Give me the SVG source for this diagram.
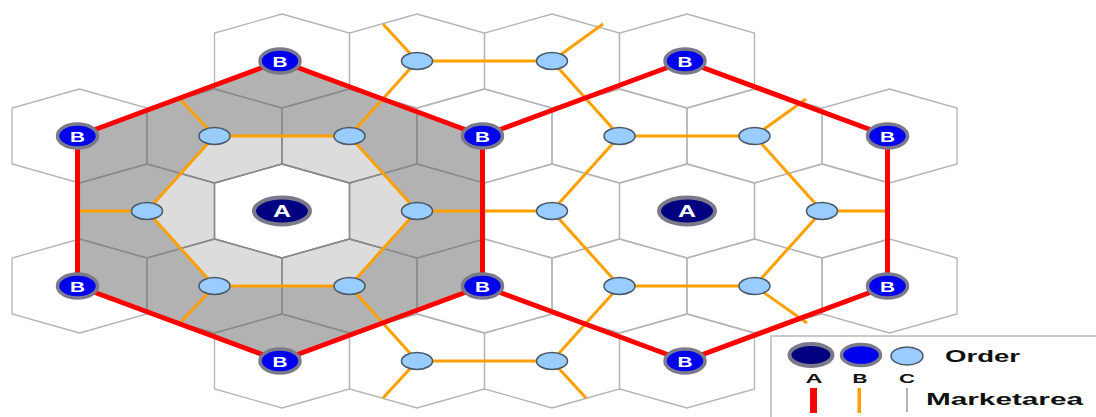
<svg xmlns="http://www.w3.org/2000/svg" xmlns:xlink="http://www.w3.org/1999/xlink" width="1096" height="417" viewBox="0 0 1096 417">
<style>
.hex{fill:none;stroke:#b4b4b4;stroke-width:1.3}
.hexd{fill:none;stroke:#8a8a8a;stroke-width:1.3}
.red{fill:none;stroke:#ff0000;stroke-width:5;stroke-linejoin:round;stroke-linecap:round}
.org{fill:none;stroke:#ffa000;stroke-width:3}
.na{fill:#000080;stroke:#7a7a8a;stroke-width:4}
.nb{fill:#0000f0;stroke:#7a7a8a;stroke-width:3.5}
.nc{fill:#99ccff;stroke:#4a5868;stroke-width:1.5}
.lbl{font-family:"Liberation Sans",Arial,sans-serif;font-weight:bold;fill:#ffffff;text-anchor:middle}
.leg{font-family:"Liberation Sans",Arial,sans-serif;font-weight:bold;fill:#111111}
</style>
<defs>
<path id="hx" d="M0,-47 L67.5,-28 L67.5,28 L0,47 L-67.5,28 L-67.5,-28 Z"/>
<clipPath id="leftArea"><polygon points="280,61 482.5,136 482.5,286 280,361 77.5,286 77.5,136"/></clipPath>
<g id="grid">
<use xlink:href="#hx" x="282" y="61"/><use xlink:href="#hx" x="417" y="61"/><use xlink:href="#hx" x="552" y="61"/><use xlink:href="#hx" x="687" y="61"/>
<use xlink:href="#hx" x="79.5" y="136"/><use xlink:href="#hx" x="214.5" y="136"/><use xlink:href="#hx" x="349.5" y="136"/><use xlink:href="#hx" x="484.5" y="136"/><use xlink:href="#hx" x="619.5" y="136"/><use xlink:href="#hx" x="754.5" y="136"/><use xlink:href="#hx" x="889.5" y="136"/>
<use xlink:href="#hx" x="147" y="211"/><use xlink:href="#hx" x="282" y="211"/><use xlink:href="#hx" x="417" y="211"/><use xlink:href="#hx" x="552" y="211"/><use xlink:href="#hx" x="687" y="211"/><use xlink:href="#hx" x="822" y="211"/>
<use xlink:href="#hx" x="79.5" y="286"/><use xlink:href="#hx" x="214.5" y="286"/><use xlink:href="#hx" x="349.5" y="286"/><use xlink:href="#hx" x="484.5" y="286"/><use xlink:href="#hx" x="619.5" y="286"/><use xlink:href="#hx" x="754.5" y="286"/><use xlink:href="#hx" x="889.5" y="286"/>
<use xlink:href="#hx" x="282" y="361"/><use xlink:href="#hx" x="417" y="361"/><use xlink:href="#hx" x="552" y="361"/><use xlink:href="#hx" x="687" y="361"/>
</g>
</defs>
<rect width="1096" height="417" fill="#ffffff"/>
<g id="shading">
<polygon points="280,61 482.5,136 482.5,286 280,361 77.5,286 77.5,136" fill="#b2b2b2"/>
<polygon points="214.5,136 349.5,136 417,211 349.5,286 214.5,286 147,211" fill="#dcdcdc"/>
<use xlink:href="#hx" x="282" y="211" fill="#ffffff"/>
</g>
<g id="hexgrid">
<use xlink:href="#grid" class="hex"/>
<g clip-path="url(#leftArea)"><use xlink:href="#grid" class="hexd"/></g>
</g>
<g id="connectors">
<g id="orange-lines" class="org">
<polyline points="214.5,136 349.5,136 417,211 349.5,286 214.5,286 147,211 214.5,136"/>
<polyline points="349.5,136 417,61 552,61 619.5,136 754.5,136 822,211 754.5,286 619.5,286 552,211 619.5,136"/>
<line x1="417" y1="211" x2="552" y2="211"/>
<polyline points="349.5,286 417,361 552,361 619.5,286"/>
<line x1="214.5" y1="136" x2="180" y2="99"/>
<line x1="147" y1="211" x2="79.5" y2="211"/>
<line x1="214.5" y1="286" x2="180" y2="323"/>
<line x1="417" y1="61" x2="383" y2="24"/>
<line x1="552" y1="61" x2="603" y2="24"/>
<line x1="754.5" y1="136" x2="806" y2="99"/>
<line x1="822" y1="211" x2="889.5" y2="211"/>
<line x1="754.5" y1="286" x2="807" y2="323"/>
<line x1="417" y1="361" x2="383" y2="398"/>
<line x1="552" y1="361" x2="586" y2="398"/>
</g>
<g id="red-lines" class="red">
<polygon points="280,61 482.5,136 482.5,286 280,361 77.5,286 77.5,136"/>
<polyline points="482.5,136 685,61 887.5,136 887.5,286 685,361 482.5,286"/>
</g>
</g>
<g id="nodes">
<g id="A1"><ellipse class="na" cx="282" cy="211" rx="28" ry="13.5"/><text class="lbl" x="282" y="217" font-size="16" textLength="18" lengthAdjust="spacingAndGlyphs">A</text></g>
<g id="A2"><ellipse class="na" cx="687" cy="211" rx="28" ry="13.5"/><text class="lbl" x="687" y="217" font-size="16" textLength="18" lengthAdjust="spacingAndGlyphs">A</text></g>
<g id="B1"><ellipse class="nb" cx="280" cy="61" rx="20" ry="12"/><text class="lbl" x="280" y="66.5" font-size="15" textLength="15" lengthAdjust="spacingAndGlyphs">B</text></g>
<g id="B2"><ellipse class="nb" cx="685" cy="61" rx="20" ry="12"/><text class="lbl" x="685" y="66.5" font-size="15" textLength="15" lengthAdjust="spacingAndGlyphs">B</text></g>
<g id="B3"><ellipse class="nb" cx="77.5" cy="136" rx="20" ry="12"/><text class="lbl" x="77.5" y="141.5" font-size="15" textLength="15" lengthAdjust="spacingAndGlyphs">B</text></g>
<g id="B4"><ellipse class="nb" cx="482.5" cy="136" rx="20" ry="12"/><text class="lbl" x="482.5" y="141.5" font-size="15" textLength="15" lengthAdjust="spacingAndGlyphs">B</text></g>
<g id="B5"><ellipse class="nb" cx="887.5" cy="136" rx="20" ry="12"/><text class="lbl" x="887.5" y="141.5" font-size="15" textLength="15" lengthAdjust="spacingAndGlyphs">B</text></g>
<g id="B6"><ellipse class="nb" cx="77.5" cy="286" rx="20" ry="12"/><text class="lbl" x="77.5" y="291.5" font-size="15" textLength="15" lengthAdjust="spacingAndGlyphs">B</text></g>
<g id="B7"><ellipse class="nb" cx="482.5" cy="286" rx="20" ry="12"/><text class="lbl" x="482.5" y="291.5" font-size="15" textLength="15" lengthAdjust="spacingAndGlyphs">B</text></g>
<g id="B8"><ellipse class="nb" cx="887.5" cy="286" rx="20" ry="12"/><text class="lbl" x="887.5" y="291.5" font-size="15" textLength="15" lengthAdjust="spacingAndGlyphs">B</text></g>
<g id="B9"><ellipse class="nb" cx="280" cy="361" rx="20" ry="12"/><text class="lbl" x="280" y="366.5" font-size="15" textLength="15" lengthAdjust="spacingAndGlyphs">B</text></g>
<g id="B10"><ellipse class="nb" cx="685" cy="361" rx="20" ry="12"/><text class="lbl" x="685" y="366.5" font-size="15" textLength="15" lengthAdjust="spacingAndGlyphs">B</text></g>
<g id="C1"><ellipse class="nc" cx="214.5" cy="136" rx="15.5" ry="8.5"/></g>
<g id="C2"><ellipse class="nc" cx="349.5" cy="136" rx="15.5" ry="8.5"/></g>
<g id="C3"><ellipse class="nc" cx="147" cy="211" rx="15.5" ry="8.5"/></g>
<g id="C4"><ellipse class="nc" cx="417" cy="211" rx="15.5" ry="8.5"/></g>
<g id="C5"><ellipse class="nc" cx="214.5" cy="286" rx="15.5" ry="8.5"/></g>
<g id="C6"><ellipse class="nc" cx="349.5" cy="286" rx="15.5" ry="8.5"/></g>
<g id="C7"><ellipse class="nc" cx="417" cy="61" rx="15.5" ry="8.5"/></g>
<g id="C8"><ellipse class="nc" cx="552" cy="61" rx="15.5" ry="8.5"/></g>
<g id="C9"><ellipse class="nc" cx="417" cy="361" rx="15.5" ry="8.5"/></g>
<g id="C10"><ellipse class="nc" cx="552" cy="361" rx="15.5" ry="8.5"/></g>
<g id="C11"><ellipse class="nc" cx="619.5" cy="136" rx="15.5" ry="8.5"/></g>
<g id="C12"><ellipse class="nc" cx="754.5" cy="136" rx="15.5" ry="8.5"/></g>
<g id="C13"><ellipse class="nc" cx="552" cy="211" rx="15.5" ry="8.5"/></g>
<g id="C14"><ellipse class="nc" cx="822" cy="211" rx="15.5" ry="8.5"/></g>
<g id="C15"><ellipse class="nc" cx="619.5" cy="286" rx="15.5" ry="8.5"/></g>
<g id="C16"><ellipse class="nc" cx="754.5" cy="286" rx="15.5" ry="8.5"/></g>
</g>
<g id="legend">
<rect x="771" y="336" width="340" height="100" fill="#ffffff" stroke="#cacaca" stroke-width="2"/>
<ellipse class="na" cx="811" cy="355" rx="21.5" ry="11"/>
<ellipse class="nb" cx="861" cy="355" rx="19.5" ry="10.5"/>
<ellipse class="nc" cx="907" cy="356" rx="16" ry="9"/>
<text class="leg" x="945" y="362" font-size="17" textLength="75" lengthAdjust="spacingAndGlyphs">Order</text>
<text class="leg" x="814" y="383" font-size="13" text-anchor="middle" textLength="17" lengthAdjust="spacingAndGlyphs">A</text>
<text class="leg" x="860" y="383" font-size="13" text-anchor="middle" textLength="15" lengthAdjust="spacingAndGlyphs">B</text>
<text class="leg" x="907" y="383" font-size="13" text-anchor="middle" textLength="16" lengthAdjust="spacingAndGlyphs">C</text>
<rect x="810" y="388" width="7" height="25" fill="#ff0000"/>
<rect x="857.5" y="388" width="3.5" height="25" fill="#ffa000"/>
<rect x="906" y="388" width="2" height="24" fill="#b4b4b4"/>
<text class="leg" x="926" y="405" font-size="17" textLength="157" lengthAdjust="spacingAndGlyphs">Marketarea</text>
</g>
</svg>
